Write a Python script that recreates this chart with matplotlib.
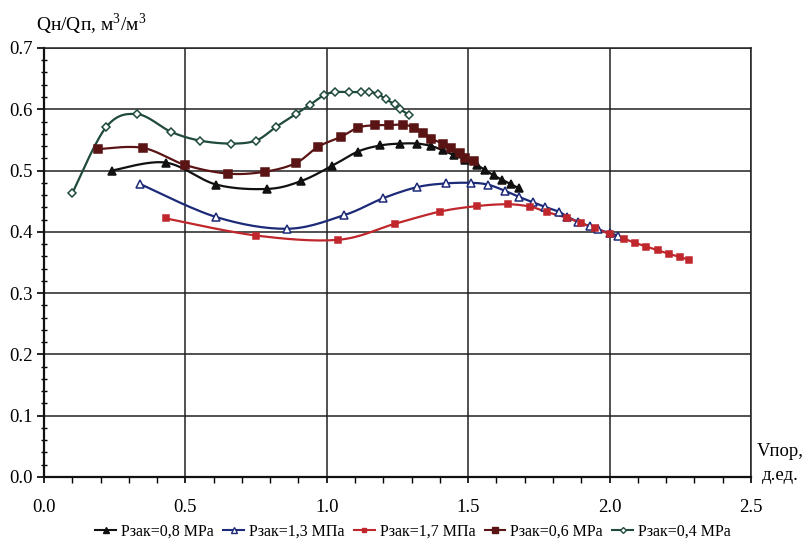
import matplotlib
matplotlib.use("Agg")
import matplotlib.pyplot as plt
import numpy as np
from matplotlib.ticker import FormatStrFormatter, MultipleLocator

plt.rcParams["font.family"] = ["Liberation Serif", "DejaVu Serif"]
plt.rcParams["mathtext.fontset"] = "custom"
plt.rcParams["mathtext.rm"] = "Liberation Serif"

# Series data: injection rate Vпор (д.ед.) vs Qн/Qп
v_08 = [0.24, 0.43, 0.61, 0.79, 0.91, 1.02, 1.11, 1.19, 1.26, 1.32, 1.37, 1.41,
        1.45, 1.49, 1.53, 1.56, 1.59, 1.62, 1.65, 1.68]
q_08 = [0.500, 0.513, 0.477, 0.470, 0.483, 0.508, 0.531, 0.541, 0.544, 0.544,
        0.540, 0.533, 0.525, 0.518, 0.509, 0.501, 0.492, 0.485, 0.478, 0.471]

v_13 = [0.34, 0.61, 0.86, 1.06, 1.20, 1.32, 1.42, 1.51, 1.57, 1.63, 1.68, 1.73,
        1.77, 1.82, 1.85, 1.89, 1.93, 1.96, 2.00, 2.03]
q_13 = [0.478, 0.424, 0.405, 0.427, 0.455, 0.473, 0.479, 0.480, 0.477, 0.467,
        0.457, 0.448, 0.441, 0.433, 0.425, 0.416, 0.409, 0.404, 0.398, 0.394]

v_17 = [0.43, 0.75, 1.04, 1.24, 1.40, 1.53, 1.64, 1.72, 1.78, 1.85, 1.90, 1.95,
        2.00, 2.05, 2.09, 2.13, 2.17, 2.21, 2.25, 2.28]
q_17 = [0.422, 0.394, 0.387, 0.413, 0.433, 0.442, 0.445, 0.441, 0.432, 0.423,
        0.414, 0.406, 0.396, 0.389, 0.382, 0.376, 0.370, 0.364, 0.359, 0.354]

v_06 = [0.19, 0.35, 0.50, 0.65, 0.78, 0.89, 0.97, 1.05, 1.11, 1.17, 1.22, 1.27,
        1.31, 1.34, 1.37, 1.41, 1.44, 1.47, 1.49, 1.52]
q_06 = [0.535, 0.537, 0.509, 0.495, 0.498, 0.512, 0.539, 0.555, 0.570, 0.574,
        0.574, 0.575, 0.570, 0.562, 0.552, 0.544, 0.536, 0.528, 0.520, 0.515]

v_04 = [0.10, 0.22, 0.33, 0.45, 0.55, 0.66, 0.75, 0.82, 0.89, 0.94, 0.99, 1.03,
        1.08, 1.12, 1.15, 1.18, 1.21, 1.24, 1.26, 1.29]
q_04 = [0.463, 0.571, 0.592, 0.563, 0.549, 0.544, 0.549, 0.571, 0.592, 0.607,
        0.623, 0.628, 0.628, 0.628, 0.628, 0.625, 0.616, 0.608, 0.600, 0.591]

labels = ["Рзак=0,8 MPa", "Рзак=1,3 МПа", "Рзак=1,7 МПа", "Рзак=0,6 MPa", "Рзак=0,4 MPa"]


def smooth(x, y, n=16):
    """Catmull-Rom curve through the points (like a spreadsheet 'smoothed line')."""
    p = np.column_stack([x, y]).astype(float)
    p = np.vstack([p[0], p, p[-1]])
    t = np.linspace(0, 1, n, endpoint=False)[:, None]
    out = []
    for i in range(1, len(p) - 2):
        p0, p1, p2, p3 = p[i - 1], p[i], p[i + 1], p[i + 2]
        seg = 0.5 * ((2 * p1) + (-p0 + p2) * t
                     + (2 * p0 - 5 * p1 + 4 * p2 - p3) * t ** 2
                     + (-p0 + 3 * p1 - 3 * p2 + p3) * t ** 3)
        out.append(seg)
    out.append(p[-2][None, :])
    c = np.vstack(out)
    return c[:, 0], c[:, 1]


styles = [
    dict(color="#111111", marker="^", mfc="#111111", ms=6),
    dict(color="#1c2a78", marker="^", mfc="white", ms=6),
    dict(color="#c0272d", marker="s", mfc="#c0272d", ms=5),
    dict(color="#5a1414", marker="s", mfc="#5a1414", ms=5.5),
    dict(color="#1f4a3c", marker="D", mfc="white", ms=4.5),
]
series = [(v_08, q_08), (v_13, q_13), (v_17, q_17), (v_06, q_06), (v_04, q_04)]

fig = plt.figure(figsize=(8.1, 5.44), dpi=100)
ax = fig.add_axes([0.0543, 0.1232, 0.8728, 0.7886])

handles = []
for (xv, yv), st, lab in zip(series, styles, labels):
    sx, sy = smooth(xv, yv)
    ax.plot(sx, sy, color=st["color"], lw=1.6, zorder=3)
    ax.plot(xv, yv, ls="none", marker=st["marker"], ms=st["ms"],
            mfc=st["mfc"], mec=st["color"], mew=1.1, zorder=4)
    h, = ax.plot([], [], color=st["color"], lw=1.5, marker=st["marker"],
                 ms=st["ms"] - 1.5, mfc=st["mfc"], mec=st["color"], mew=1.0)
    handles.append(h)

ax.set_xlim(0, 2.5)
ax.set_ylim(0, 0.7)
ax.xaxis.set_major_locator(MultipleLocator(0.5))
ax.xaxis.set_minor_locator(MultipleLocator(0.1))
ax.yaxis.set_major_locator(MultipleLocator(0.1))
ax.yaxis.set_minor_locator(MultipleLocator(0.02))
ax.xaxis.set_major_formatter(FormatStrFormatter("%.1f"))
ax.yaxis.set_major_formatter(FormatStrFormatter("%.1f"))

ax.grid(True, which="major", color="#222222", lw=1.1)
ax.set_axisbelow(True)
for side in ["top", "right"]:
    ax.spines[side].set_linewidth(1.1)
    ax.spines[side].set_color("#222222")
for side in ["left", "bottom"]:
    ax.spines[side].set_linewidth(1.6)
    ax.spines[side].set_color("#111111")

ax.tick_params(axis="x", which="major", direction="out", length=4, width=1.2,
               pad=12, labelsize=13.5)
ax.tick_params(axis="x", which="minor", direction="out", length=4, width=1.0)
ax.tick_params(axis="y", which="major", direction="out", length=5, width=1.2,
               pad=3, labelsize=13.5)
ax.tick_params(axis="y", which="minor", direction="inout", length=5, width=1.0)

fig.text(36 / 810, 1 - 24 / 544, r"Qн/Qп, м$^3$/м$^3$", fontsize=14,
         ha="left", va="center")
fig.text(757 / 810, 1 - 452 / 544, "Vпор,", fontsize=13.5, ha="left", va="center")
fig.text(762 / 810, 1 - 476 / 544, "д.ед.", fontsize=13.5, ha="left", va="center")

fig.legend(handles, labels, loc="center", bbox_to_anchor=(0.51, 1 - 532 / 544),
           ncol=5, frameon=False, fontsize=11.5, handlelength=1.3,
           handletextpad=0.3, columnspacing=0.6, borderaxespad=0)

fig.savefig("out.png", dpi=100)
